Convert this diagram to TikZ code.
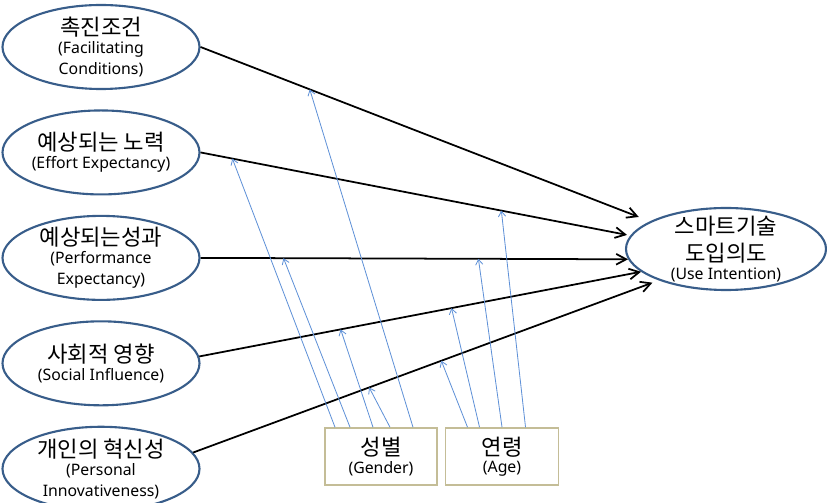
\documentclass[tikz,border=0pt]{standalone}
\usepackage{fontspec}
\setmainfont{Noto Sans}
\newfontfamily\krfont{Noto Sans CJK KR}
\usetikzlibrary{arrows.meta, positioning, shapes.geometric}

\definecolor{ovalblue}{RGB}{56,93,138}
\definecolor{modblue}{RGB}{95,145,215}
\definecolor{boxtan}{RGB}{196,189,151}

\newcommand{\kr}[1]{{\krfont\fontsize{19}{18}\selectfont #1}}

\begin{document}
\begin{tikzpicture}[
    font=\fontsize{13.5}{18}\selectfont,
    factor/.style={
        draw=ovalblue,
        fill=white,
        ellipse,
        line width=1.8pt,
        minimum width=5.91cm,
        minimum height=2.52cm,
        inner xsep=-0.6cm,
        inner ysep=-0.5cm,
        align=center
    },
    outcome/.style={
        factor,
        minimum width=6.0cm,
        minimum height=2.46cm
    },
    modbox/.style={
        draw=boxtan,
        fill=white,
        rectangle,
        line width=1.3pt,
        minimum height=1.71cm,
        align=center
    },
    effect/.style={
        -{Straight Barb[length=3mm, width=3.2mm]},
        line width=1.5pt,
        draw=black
    },
    moderator/.style={
        -{Straight Barb[length=1.6mm, width=2.2mm]},
        line width=0.7pt,
        draw=modblue
    }
]
\useasboundingbox (0,0) rectangle (24.81,15.09);

% predictors
\node[factor] (fc) at (3.03,13.68) {
    \kr{촉진조건}\\[-3pt]
    (Facilitating\\
    Conditions)
};
\node[factor, below=0.58cm of fc] (ee) {
    \kr{예상되는 노력}\\[-3pt]
    (Effort Expectancy)
};
\node[factor, below=0.58cm of ee] (pe) {
    \kr{예상되는성과}\\[-3pt]
    (Performance\\
    Expectancy)
};
\node[factor, below=0.58cm of pe] (si) {
    \kr{사회적 영향}\\[-3pt]
    (Social Influence)
};
\node[factor, below=0.58cm of si] (pi) {
    \kr{개인의 혁신성}\\[-3pt]
    (Personal\\
    Innovativeness)
};

% outcome
\node[outcome] (ui) at (21.78,7.62) {
    \kr{스마트기술}\\[5pt]
    \kr{도입의도}\\[-3pt]
    (Use Intention)
};

% moderators
\node[modbox, minimum width=3.36cm] (gender) at (11.43,1.395) {
    \kr{성별}\\[-3pt]
    (Gender)
};
\node[modbox, minimum width=3.39cm, right=0.21cm of gender] (age) {
    \kr{연령}\\[-3pt]
    (Age)
};

\draw[effect, shorten >=0.36cm] (fc.east) -- coordinate[pos=0.243] (fc-g) (ui.160);
\draw[effect, shorten >=0.1cm] (ee.east) -- coordinate[pos=0.074] (ee-g) coordinate[pos=0.70] (ee-a) (ui.172);
\draw[effect] (pe.east) -- coordinate[pos=0.194] (pe-g) coordinate[pos=0.65] (pe-a) (ui.186);
\draw[effect] (si.4) -- coordinate[pos=0.32] (si-g) coordinate[pos=0.571] (si-a) (ui.195);
\draw[effect, shorten >=0.2cm] (pi.10) -- coordinate[pos=0.378] (pi-g) coordinate[pos=0.533] (pi-a) (ui.205);

\draw[moderator] ([xshift=-1.38cm]gender.north) -- (ee-g);
\draw[moderator] ([xshift=-0.93cm]gender.north) -- (pe-g);
\draw[moderator] ([xshift=-0.24cm]gender.north) -- (si-g);
\draw[moderator] ([xshift=0.27cm]gender.north) -- (pi-g);
\draw[moderator] ([xshift=0.96cm]gender.north) -- (fc-g);

\draw[moderator] ([xshift=-1.035cm]age.north) -- (pi-a);
\draw[moderator] ([xshift=-0.675cm]age.north) -- (si-a);
\draw[moderator] (age.north) -- (pe-a);
\draw[moderator] ([xshift=0.705cm]age.north) -- (ee-a);

\end{tikzpicture}
\end{document}
